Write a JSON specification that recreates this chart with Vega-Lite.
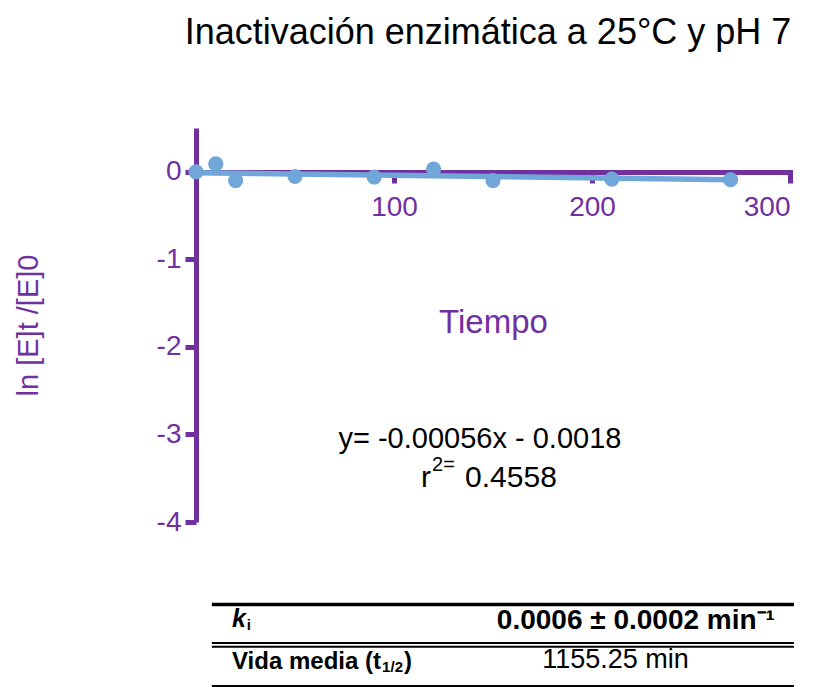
{
  "$schema": "https://vega.github.io/schema/vega-lite/v6.json",
  "autosize": {"type": "none"},
  "width": 594,
  "height": 394,
  "padding": {"left": 196, "top": 128, "right": 26, "bottom": 165},
  "background": "white",
  "config": {
    "view": {"stroke": null},
    "font": "Liberation Sans",
    "title": {"font": "Liberation Sans", "fontSize": 36, "fontWeight": "normal", "color": "#000000", "anchor": "middle", "baseline": "alphabetic", "offset": 76, "dx": -5}
  },
  "title": "Inactivación enzimática a 25°C y pH 7",
  "datasets": {
    "points": [
      {"tiempo": 0, "lnE": 0.0},
      {"tiempo": 10, "lnE": 0.09},
      {"tiempo": 20, "lnE": -0.10},
      {"tiempo": 50, "lnE": -0.054},
      {"tiempo": 90, "lnE": -0.06},
      {"tiempo": 120, "lnE": 0.03},
      {"tiempo": 150, "lnE": -0.10},
      {"tiempo": 210, "lnE": -0.084},
      {"tiempo": 270, "lnE": -0.09}
    ],
    "fit": [
      {"tiempo": 0, "lnE": -0.01},
      {"tiempo": 270, "lnE": -0.09}
    ],
    "equation": [
      {"tiempo": 143.4, "lnE": -3.154, "label": "y= -0.00056x - 0.0018"}
    ],
    "r2main": [
      {"tiempo": 113.6, "lnE": -3.6, "label": "r"},
      {"tiempo": 135.9, "lnE": -3.6, "label": "0.4558"}
    ],
    "r2sup": [
      {"tiempo": 119.2, "lnE": -3.42, "label": "2="}
    ],
    "tableThick": [
      {"tiempo": 8, "tiempo2": 302, "lnE": -4.943}
    ],
    "tableThin": [
      {"tiempo": 8, "tiempo2": 302, "lnE": -5.383},
      {"tiempo": 8, "tiempo2": 302, "lnE": -5.425},
      {"tiempo": 8, "tiempo2": 302, "lnE": -5.874}
    ],
    "tableBoldLeft": [
      {"tiempo": 18.2, "lnE": -5.68, "label": "Vida media (t"},
      {"tiempo": 105, "lnE": -5.68, "label": ")"}
    ],
    "tableK": [
      {"tiempo": 18.2, "lnE": -5.2, "label": "k"}
    ],
    "tableSub": [
      {"tiempo": 25.6, "lnE": -5.234, "label": "i"},
      {"tiempo": 94, "lnE": -5.714, "label": "1/2"}
    ],
    "tableBoldRight": [
      {"tiempo": 292.4, "lnE": -5.223, "label": "0.0006 ± 0.0002 min⁻¹"}
    ],
    "tableRegular": [
      {"tiempo": 211.9, "lnE": -5.669, "label": "1155.25 min"}
    ]
  },
  "layer": [
    {
      "data": {"name": "fit"},
      "mark": {"type": "line", "color": "#70A6D8", "strokeWidth": 5.5, "clip": false},
      "encoding": {
        "x": {
          "field": "tiempo", "type": "quantitative",
          "scale": {"domain": [0, 300], "nice": false, "zero": false},
          "axis": {
            "title": "Tiempo", "values": [100, 200, 300], "offset": -350,
            "labelExpr": "'' + datum.value",
            "domainColor": "#7030A0", "domainWidth": 5, "domainCap": "square",
            "tickColor": "#7030A0", "tickWidth": 5, "tickSize": 11,
            "labelColor": "#7030A0", "labelFontSize": 28, "labelFont": "Liberation Sans", "labelPadding": 10,
            "grid": false,
            "titleColor": "#7030A0", "titleFontSize": 33, "titleFontWeight": "normal", "titleFont": "Liberation Sans",
            "titleY": 150, "titleBaseline": "middle"
          }
        },
        "y": {
          "field": "lnE", "type": "quantitative",
          "scale": {"domain": [-4, 0.5], "nice": false, "zero": false},
          "axis": {
            "title": "ln [E]t /[E]0", "values": [-4, -3, -2, -1, 0],
            "labelExpr": "'' + datum.value",
            "domainColor": "#7030A0", "domainWidth": 5,
            "tickColor": "#7030A0", "tickWidth": 5, "tickSize": 11,
            "labelColor": "#7030A0", "labelFontSize": 28, "labelFont": "Liberation Sans", "labelPadding": 4,
            "grid": false,
            "titleColor": "#7030A0", "titleFontSize": 29, "titleFontWeight": "normal", "titleFont": "Liberation Sans",
            "titleX": -168, "titleBaseline": "middle", "titleAngle": 270
          }
        }
      }
    },
    {
      "data": {"name": "points"},
      "mark": {"type": "point", "filled": true, "opacity": 1, "color": "#70A6D8", "size": 230, "clip": false},
      "encoding": {
        "x": {"field": "tiempo", "type": "quantitative"},
        "y": {"field": "lnE", "type": "quantitative"}
      }
    },
    {
      "data": {"name": "equation"},
      "mark": {"type": "text", "fontSize": 29, "color": "#000000", "align": "center", "baseline": "alphabetic", "font": "Liberation Sans"},
      "encoding": {
        "x": {"field": "tiempo", "type": "quantitative"},
        "y": {"field": "lnE", "type": "quantitative"},
        "text": {"field": "label"}
      }
    },
    {
      "data": {"name": "r2main"},
      "mark": {"type": "text", "fontSize": 30, "color": "#000000", "align": "left", "baseline": "alphabetic", "font": "Liberation Sans"},
      "encoding": {
        "x": {"field": "tiempo", "type": "quantitative"},
        "y": {"field": "lnE", "type": "quantitative"},
        "text": {"field": "label"}
      }
    },
    {
      "data": {"name": "r2sup"},
      "mark": {"type": "text", "fontSize": 20, "color": "#000000", "align": "left", "baseline": "alphabetic", "font": "Liberation Sans"},
      "encoding": {
        "x": {"field": "tiempo", "type": "quantitative"},
        "y": {"field": "lnE", "type": "quantitative"},
        "text": {"field": "label"}
      }
    },
    {
      "data": {"name": "tableThick"},
      "mark": {"type": "rule", "color": "#000000", "strokeWidth": 3.5},
      "encoding": {
        "x": {"field": "tiempo", "type": "quantitative"},
        "x2": {"field": "tiempo2"},
        "y": {"field": "lnE", "type": "quantitative"}
      }
    },
    {
      "data": {"name": "tableThin"},
      "mark": {"type": "rule", "color": "#000000", "strokeWidth": 2},
      "encoding": {
        "x": {"field": "tiempo", "type": "quantitative"},
        "x2": {"field": "tiempo2"},
        "y": {"field": "lnE", "type": "quantitative"}
      }
    },
    {
      "data": {"name": "tableK"},
      "mark": {"type": "text", "fontSize": 25, "fontWeight": "bold", "fontStyle": "italic", "color": "#000000", "align": "left", "baseline": "alphabetic", "font": "Liberation Sans"},
      "encoding": {
        "x": {"field": "tiempo", "type": "quantitative"},
        "y": {"field": "lnE", "type": "quantitative"},
        "text": {"field": "label"}
      }
    },
    {
      "data": {"name": "tableSub"},
      "mark": {"type": "text", "fontSize": 15, "fontWeight": "bold", "color": "#000000", "align": "left", "baseline": "alphabetic", "font": "Liberation Sans"},
      "encoding": {
        "x": {"field": "tiempo", "type": "quantitative"},
        "y": {"field": "lnE", "type": "quantitative"},
        "text": {"field": "label"}
      }
    },
    {
      "data": {"name": "tableBoldLeft"},
      "mark": {"type": "text", "fontSize": 24, "fontWeight": "bold", "color": "#000000", "align": "left", "baseline": "alphabetic", "font": "Liberation Sans"},
      "encoding": {
        "x": {"field": "tiempo", "type": "quantitative"},
        "y": {"field": "lnE", "type": "quantitative"},
        "text": {"field": "label"}
      }
    },
    {
      "data": {"name": "tableBoldRight"},
      "mark": {"type": "text", "fontSize": 28, "fontWeight": "bold", "color": "#000000", "align": "right", "baseline": "alphabetic", "font": "Liberation Sans"},
      "encoding": {
        "x": {"field": "tiempo", "type": "quantitative"},
        "y": {"field": "lnE", "type": "quantitative"},
        "text": {"field": "label"}
      }
    },
    {
      "data": {"name": "tableRegular"},
      "mark": {"type": "text", "fontSize": 27, "color": "#000000", "align": "center", "baseline": "alphabetic", "font": "Liberation Sans"},
      "encoding": {
        "x": {"field": "tiempo", "type": "quantitative"},
        "y": {"field": "lnE", "type": "quantitative"},
        "text": {"field": "label"}
      }
    }
  ]
}
